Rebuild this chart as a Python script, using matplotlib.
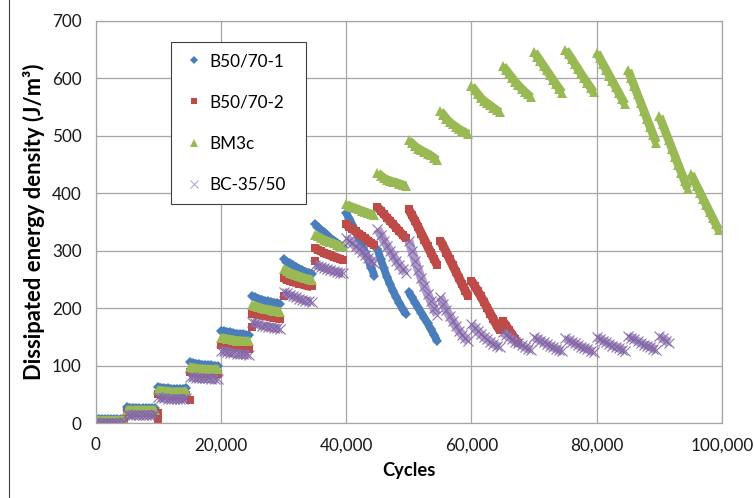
import matplotlib
matplotlib.use("Agg")
import matplotlib.pyplot as plt
from matplotlib.ticker import StrMethodFormatter, MultipleLocator
from matplotlib.lines import Line2D
from matplotlib.patches import Rectangle

plt.rcParams['font.family'] = ['Lato', 'DejaVu Sans']

# each block is one loading step of 5,000 cycles, values sampled every 500 cycles
block_starts = [0, 5000, 10000, 15000, 20000, 25000, 30000, 35000, 40000, 45000,
                50000, 55000, 60000, 65000, 70000, 75000, 80000, 85000, 90000, 95000]
offsets = [0, 500, 1000, 1500, 2000, 2500, 3000, 3500, 4000, 4500]

b1_blocks = [
    [8, 8, 7, 7, 7, 7, 7, 7, 7, 8],
    [28, 27, 27, 27, 26, 26, 26, 26, 26, 27],
    [63, 62, 61, 61, 60, 60, 60, 60, 60, 61],
    [106, 105, 104, 103, 102, 102, 101, 101, 100, 100],
    [161, 160, 159, 158, 157, 156, 155, 155, 154, 153],
    [221, 219, 217, 215, 213, 212, 211, 210, 209, 208],
    [285, 281, 278, 275, 272, 269, 266, 264, 262, 260],
    [346, 341, 336, 332, 327, 322, 318, 314, 310, 306],
    [366, 356, 345, 334, 322, 310, 298, 285, 271, 257],
    [303, 286, 270, 255, 242, 230, 219, 209, 199, 190],
    [228, 219, 210, 201, 192, 183, 174, 164, 154, 144],
]

b2_blocks = [
    [4, 3, 3, 3, 3, 3, 3, 3, 3, 4],
    [20, 19, 19, 19, 19, 19, 19, 19, 19, 20],
    [51, 50, 49, 49, 48, 48, 48, 48, 48, 49],
    [89, 88, 87, 87, 86, 86, 85, 85, 85, 85],
    [137, 136, 135, 134, 133, 132, 132, 131, 130, 130],
    [191, 190, 189, 188, 187, 186, 185, 184, 183, 182],
    [252, 250, 248, 246, 245, 243, 242, 240, 239, 238],
    [305, 302, 299, 296, 294, 292, 290, 288, 286, 284],
    [346, 342, 338, 334, 330, 326, 322, 318, 314, 310],
    [376, 370, 364, 358, 352, 346, 340, 334, 328, 322],
    [372, 362, 352, 341, 330, 319, 308, 297, 286, 276],
    [318, 308, 297, 286, 275, 264, 253, 242, 231, 221],
    [248, 239, 230, 221, 211, 201, 191, 181, 171, 162],
    [178, 170, 162, 154, 146, 139],
]
# first readings of some steps sit below the rest of the step
b2_dip_cycles = [10000, 10000, 15000, 25000, 30000, 35000]
b2_dip_values = [6, 18, 40, 168, 222, 282]

bm3c_blocks = [
    [6, 5, 5, 5, 5, 5, 5, 5, 5, 6],
    [24, 23, 23, 23, 23, 23, 23, 23, 23, 24],
    [58, 57, 56, 56, 55, 55, 55, 55, 55, 56],
    [98, 97, 96, 95, 95, 94, 94, 94, 94, 95],
    [149, 148, 147, 146, 145, 144, 144, 143, 143, 143],
    [206, 204, 202, 200, 199, 198, 197, 196, 195, 194],
    [268, 265, 262, 260, 258, 256, 254, 252, 251, 250],
    [328, 325, 322, 319, 317, 315, 313, 311, 309, 308],
    [381, 378, 376, 374, 372, 370, 368, 366, 364, 362],
    [436, 431, 427, 424, 422, 420, 419, 417, 415, 413],
    [492, 487, 482, 478, 475, 472, 469, 466, 462, 458],
    [543, 537, 530, 524, 520, 516, 512, 509, 506, 503],
    [587, 580, 573, 566, 561, 557, 553, 549, 545, 541],
    [622, 615, 608, 601, 594, 588, 582, 577, 572, 567],
    [646, 638, 630, 622, 614, 606, 598, 590, 582, 575],
    [650, 642, 634, 625, 617, 608, 600, 592, 584, 576],
    [645, 635, 625, 615, 605, 595, 585, 575, 565, 555],
    [614, 600, 586, 572, 558, 544, 530, 516, 502, 488],
    [534, 520, 506, 492, 478, 464, 450, 436, 422, 408],
    [434, 423, 412, 401, 390, 379, 368, 357, 346, 336],
]

bc_blocks = [
    [2, 1, 1, 1, 1, 1, 1, 1, 1, 2],
    [16, 15, 15, 15, 15, 15, 15, 15, 15, 16],
    [45, 44, 44, 43, 43, 43, 43, 43, 43, 44],
    [81, 80, 79, 79, 78, 78, 78, 77, 77, 77],
    [126, 125, 124, 123, 122, 121, 121, 120, 120, 119],
    [176, 174, 172, 170, 169, 168, 167, 166, 165, 164],
    [229, 226, 223, 221, 219, 217, 215, 213, 212, 211],
    [276, 274, 272, 270, 268, 266, 265, 263, 262, 261],
    [322, 318, 313, 308, 303, 298, 293, 288, 283, 278],
    [338, 328, 318, 309, 300, 291, 283, 275, 268, 262],
    [318, 300, 283, 267, 252, 238, 225, 213, 200, 189],
    [220, 208, 197, 187, 178, 169, 161, 154, 148, 143],
    [172, 166, 160, 155, 150, 146, 142, 138, 135, 132],
    [158, 154, 150, 146, 142, 139, 136, 133, 130, 127],
    [150, 147, 144, 141, 138, 135, 132, 130, 127, 125],
    [148, 145, 142, 139, 136, 133, 131, 129, 126, 124],
    [150, 147, 144, 141, 138, 135, 133, 131, 128, 126],
    [152, 149, 146, 143, 140, 137, 135, 133, 130, 128],
    [152, 148, 144, 140],
]


def unpack(blocks):
    xs, ys = [], []
    for start, vals in zip(block_starts, blocks):
        for off, v in zip(offsets, vals):
            xs.append(start + off)
            ys.append(v)
    return xs, ys


def draw_bands(ax, blocks, color, width, alpha=1.0):
    # the recorded points are so dense they merge into a band for each step
    for start, vals in zip(block_starts, blocks):
        xs = [start + off for off in offsets[:len(vals)]]
        ax.plot(xs, vals, '-', color=color, lw=width, alpha=alpha,
                solid_capstyle='butt', solid_joinstyle='round')


blue, red, green, purple = '#4A7EBB', '#BE4B48', '#98B954', '#8064A2'

fig = plt.figure(figsize=(7.54, 4.98), dpi=100)
ax = fig.add_axes([0.1267, 0.150, 0.831, 0.808])

draw_bands(ax, b1_blocks, blue, 5.6)
x, y = unpack(b1_blocks)
ax.plot(x, y, 'D', color=blue, ms=5.2, mew=0, label='B50/70-1')

draw_bands(ax, b2_blocks, red, 6.6)
x, y = unpack(b2_blocks)
ax.plot(x + b2_dip_cycles, y + b2_dip_values, 's', color=red, ms=6.0, mew=0,
        label='B50/70-2')

draw_bands(ax, bm3c_blocks, green, 6.2)
x, y = unpack(bm3c_blocks)
ax.plot(x, y, '^', color=green, ms=7.0, mew=0, label='BM3c')

draw_bands(ax, bc_blocks, '#9A82C0', 6.4, alpha=0.8)
x, y = unpack(bc_blocks)
ax.plot(x, y, 'x', color=purple, ms=6.5, mew=0.8, alpha=0.9, label='BC-35/50')

ax.set_xlim(0, 100000)
ax.set_ylim(0, 700)
ax.xaxis.set_major_locator(MultipleLocator(20000))
ax.yaxis.set_major_locator(MultipleLocator(100))
ax.xaxis.set_major_formatter(StrMethodFormatter('{x:,.0f}'))
ax.grid(True, color='#A6A6A6', lw=0.9)
ax.set_axisbelow(True)
for s in ax.spines.values():
    s.set_color('#A6A6A6')
    s.set_linewidth(0.9)
ax.tick_params(length=0, labelsize=12.3, pad=10, colors='#1a1a1a')

ax.set_xlabel('Cycles', fontsize=13.2, fontweight='bold', labelpad=6)
ax.set_ylabel('Dissipated energy density (J/m³)', fontsize=15.8, fontweight='bold',
              labelpad=5)

# legend box drawn separately so its size matches the original
ax.add_patch(Rectangle((0.120, 0.544), 0.2155, 0.404, transform=ax.transAxes,
                       facecolor='white', edgecolor='#404040', lw=0.8,
                       zorder=4.5, clip_on=False))
leg = ax.legend(loc='upper left', bbox_to_anchor=(0.120, 0.945), borderaxespad=0,
                fontsize=12.3, handlelength=1.5, handletextpad=0.15, borderpad=0.6,
                labelspacing=1.47, frameon=False)
for h, ms in zip(leg.legend_handles, [4.2, 4.8, 5.2, 5.2]):
    h.set_alpha(1)
    h.set_markersize(ms)
leg.legend_handles[3].set_markeredgewidth(0.7)
leg.legend_handles[3].set_color('#A9A0C2')

# chart area border on the left
fig.add_artist(Line2D([8.5 / 754, 8.5 / 754], [0, 1], color='#404040', lw=0.8))

fig.savefig('out.png', dpi=100)
